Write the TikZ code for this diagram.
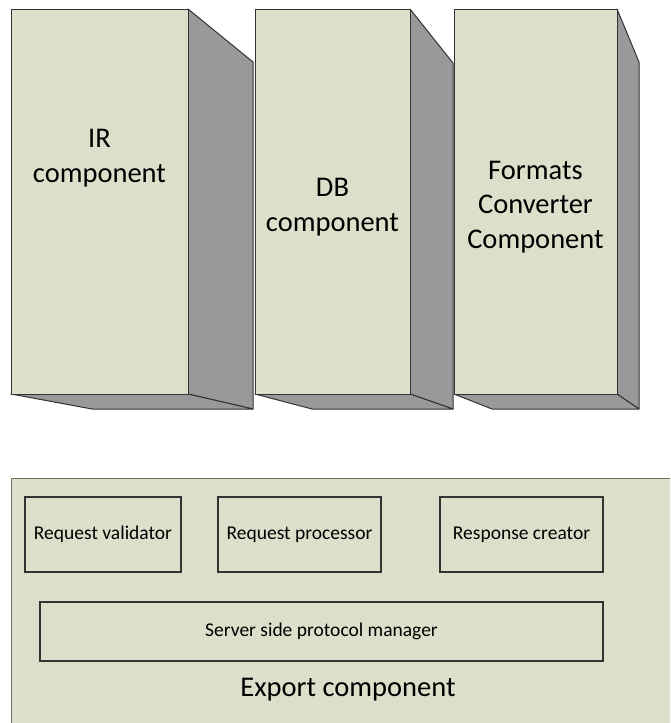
\documentclass[tikz,border=0pt]{standalone}
\usepackage{fontspec}
\setmainfont{Carlito}
\definecolor{face}{HTML}{DCE0CA}
\definecolor{shade}{HTML}{999999}
\definecolor{edge}{HTML}{333333}
\definecolor{outer}{HTML}{6E7060}
\newcommand{\bigtxt}{\fontsize{28.5}{34.5}\selectfont}
\newcommand{\smalltxt}{\fontsize{19.5}{23}\selectfont}
\tikzset{
  frontface/.style={draw=edge, fill=face, line width=1pt},
  sideface/.style={draw=edge, fill=shade, line width=1pt, line join=round},
  bigtext/.style={align=center, font=\bigtxt, inner sep=0pt},
  subbox/.style={draw=edge, fill=face, line width=1.1pt, inner sep=0pt, font=\smalltxt},
}
\begin{document}
\begin{tikzpicture}[x=1pt,y=-1pt]
\useasboundingbox (0,0) rectangle (670,723);
\clip (0,0) rectangle (670,723);
\fill[white] (0,0) rectangle (670,723);
% IR component
\filldraw[sideface] (188,9) -- (253,62) -- (253,409) -- (188,394) -- cycle;
\filldraw[sideface] (11,394) -- (188,394) -- (253,409) -- (92,409) -- cycle;
\node[frontface, minimum width=177pt, minimum height=385pt, inner sep=0pt] (ir) at (99.5,201.5) {};
\node[bigtext] (irt) at (99.5,158) {IR\\component};
% DB component
\filldraw[sideface] (410,9) -- (453,63) -- (453,409) -- (410,394) -- cycle;
\filldraw[sideface] (255,394) -- (410,394) -- (453,409) -- (312,409) -- cycle;
\node[frontface, minimum width=155pt, minimum height=385pt, inner sep=0pt] (db) at (332.5,201.5) {};
\node[bigtext] (dbt) at (332.5,207) {DB\\component};
% Formats converter component
\filldraw[sideface] (617,9) -- (639,62) -- (639,409) -- (617,394) -- cycle;
\filldraw[sideface] (454,394) -- (617,394) -- (639,409) -- (492,409) -- cycle;
\node[frontface, minimum width=163pt, minimum height=385pt, inner sep=0pt] (fc) at (535.5,201.5) {};
\node[bigtext] (fct) at (535.5,207) {Formats\\Converter\\Component};
% Export component
\node[draw=outer, fill=face, line width=1pt, minimum width=700pt, minimum height=280pt, inner sep=0pt, anchor=north west] (exp) at (11,478) {};
\node[subbox, minimum width=156pt, minimum height=75pt] (rv) at (103,534.5) {Request validator};
\node[subbox, minimum width=163pt, minimum height=75pt] (rp) at (299.5,534.5) {Request processor};
\node[subbox, minimum width=163pt, minimum height=75pt] (rc) at (521.5,534.5) {Response creator};
\node[subbox, minimum width=563pt, minimum height=59pt] (sp) at (321.5,631.5) {Server side protocol manager};
\node[font=\bigtxt, inner sep=0pt] (expt) at (348,690) {Export component};
\end{tikzpicture}
\end{document}
